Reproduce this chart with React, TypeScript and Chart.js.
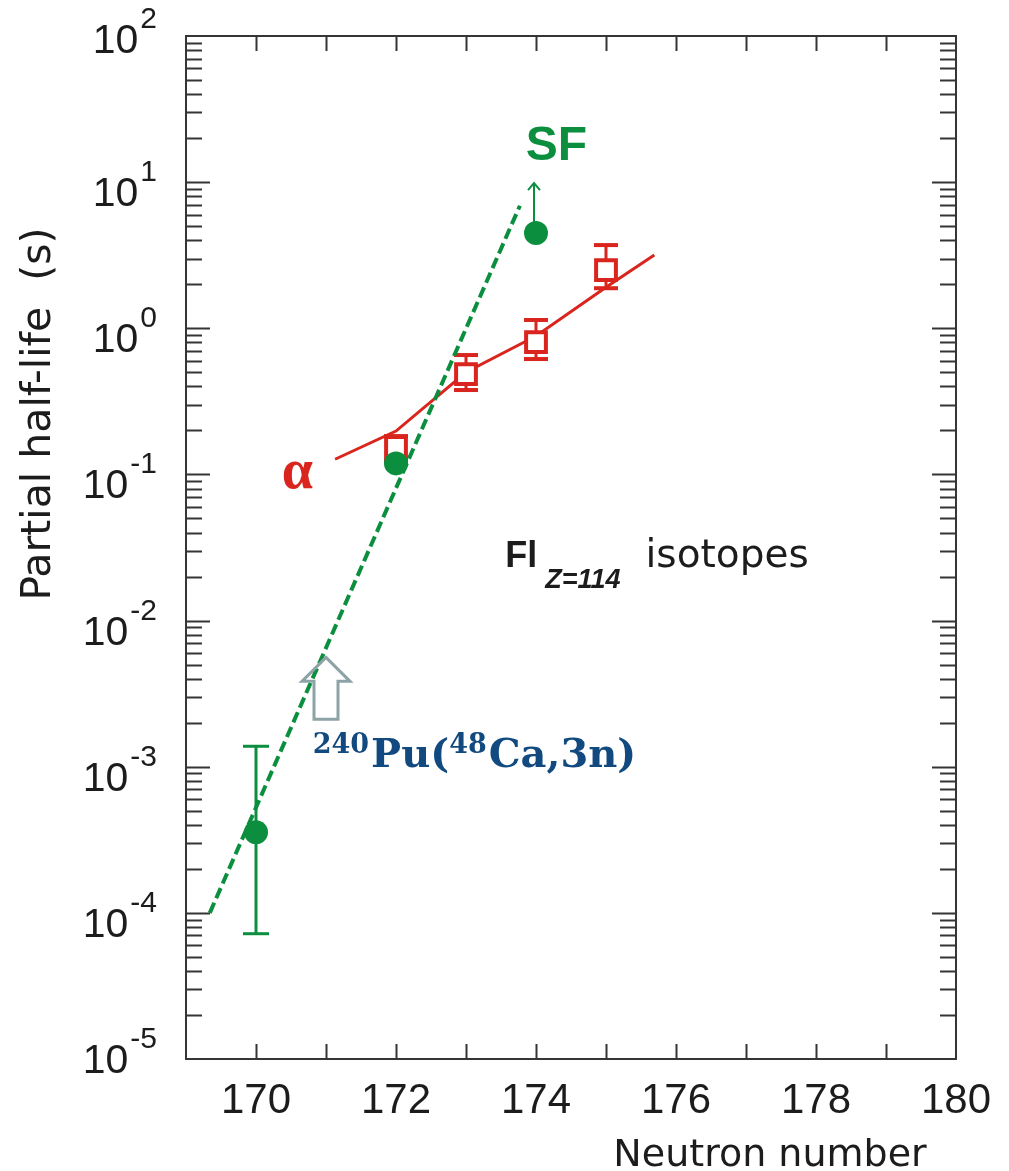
import React, { useEffect, useRef } from "react";
import { Chart, registerables } from "chart.js";

Chart.register(...registerables);

// ---------- data ----------
const xMin = 169;
const xMax = 180;
const yMin = 1e-5;
const yMax = 100;
const xTickLabels = [170, 172, 174, 176, 178, 180];
const yDecadeExponents = [2, 1, 0, -1, -2, -3, -4, -5];

// spontaneous fission partial half-lives (s)
const sfN = [170, 172, 174];
const sfHalfLife = [3.56e-4, 0.119, 4.49];
const sfErrLow = [7.2e-5, null, null];
const sfErrHigh = [1.38e-3, null, null];
const sfLowerLimitTo = [null, null, 9.86];

// alpha-decay partial half-lives (s)
const alphaN = [172, 173, 174, 175];
const alphaHalfLife = [0.154, 0.486, 0.805, 2.5];
const alphaErrLow = [0.124, 0.378, 0.616, 1.88];
const alphaErrHigh = [0.183, 0.656, 1.14, 3.71];

// systematics / trend lines
const sfTrendN = [169.34, 173.77];
const sfTrendHalfLife = [1.0e-4, 6.9];
const alphaTrendN = [171.13, 172, 173, 174, 175, 175.69];
const alphaTrendHalfLife = [0.127, 0.198, 0.5, 0.885, 1.91, 3.17];

// annotation anchors (data coordinates)
const reactionArrowN = 171;
const reactionArrowTip = 5.6e-3;

const GREEN = "#0b8f3e";
const RED = "#d9251d";
const BLUE = "#124a80";
const ARROW_GRAY = "#8ea3a6";
const AXIS = "#353535";
const TEXT = "#1c1c1c";

const decorPlugin = {
  id: "decor",
  beforeDatasetsDraw(chart: any) {
    const { ctx, scales } = chart;
    const x = scales.x;
    const y = scales.y;
    ctx.save();
    const cap = (px: number, py: number, hw: number) => {
      ctx.beginPath();
      ctx.moveTo(px - hw, py);
      ctx.lineTo(px + hw, py);
      ctx.stroke();
    };
    // alpha error bars
    ctx.strokeStyle = RED;
    ctx.lineWidth = 3;
    alphaN.forEach((n, i) => {
      const px = x.getPixelForValue(n);
      const y1 = y.getPixelForValue(alphaErrHigh[i]);
      const y2 = y.getPixelForValue(alphaErrLow[i]);
      ctx.beginPath();
      ctx.moveTo(px, y1);
      ctx.lineTo(px, y2);
      ctx.stroke();
      ctx.lineWidth = 4;
      cap(px, y1, 12);
      cap(px, y2, 12);
      ctx.lineWidth = 3;
    });
    // SF error bars
    ctx.strokeStyle = GREEN;
    ctx.lineWidth = 3;
    sfN.forEach((n, i) => {
      const lo = sfErrLow[i];
      const hi = sfErrHigh[i];
      if (lo == null || hi == null) return;
      const px = x.getPixelForValue(n);
      const y1 = y.getPixelForValue(hi);
      const y2 = y.getPixelForValue(lo);
      ctx.beginPath();
      ctx.moveTo(px, y1);
      ctx.lineTo(px, y2);
      ctx.stroke();
      cap(px, y1, 13);
      cap(px, y2, 13);
    });
    // SF lower limit arrow
    ctx.lineWidth = 2;
    sfN.forEach((n, i) => {
      const lim = sfLowerLimitTo[i];
      if (lim == null) return;
      const px = x.getPixelForValue(n) - 2;
      const y0 = y.getPixelForValue(sfHalfLife[i]);
      const y1 = y.getPixelForValue(lim);
      ctx.beginPath();
      ctx.moveTo(px, y0);
      ctx.lineTo(px, y1);
      ctx.moveTo(px - 6, y1 + 7);
      ctx.lineTo(px, y1);
      ctx.lineTo(px + 6, y1 + 7);
      ctx.stroke();
    });
    ctx.restore();
  },
  afterDraw(chart: any) {
    const { ctx, chartArea: a, scales } = chart;
    const x = scales.x;
    const y = scales.y;
    ctx.save();
    // frame
    ctx.strokeStyle = AXIS;
    ctx.lineWidth = 2;
    ctx.strokeRect(a.left, a.top, a.right - a.left, a.bottom - a.top);
    // x ticks (every integer), inward on bottom and top
    ctx.lineWidth = 2;
    for (let n = Math.ceil(xMin) + (Number.isInteger(xMin) ? 1 : 0); n < xMax; n++) {
      const px = Math.round(x.getPixelForValue(n)) + 0.5;
      ctx.beginPath();
      ctx.moveTo(px, a.bottom);
      ctx.lineTo(px, a.bottom - 15);
      ctx.moveTo(px, a.top);
      ctx.lineTo(px, a.top + 15);
      ctx.stroke();
    }
    // y ticks (log), inward on left and right
    for (let e = -5; e < 2; e++) {
      for (let k = 1; k <= 9; k++) {
        const v = k * Math.pow(10, e);
        if (v <= yMin || v >= yMax) continue;
        const py = Math.round(y.getPixelForValue(v)) + 0.5;
        const len = k === 1 ? 24 : 16;
        ctx.beginPath();
        ctx.moveTo(a.left, py);
        ctx.lineTo(a.left + len, py);
        ctx.moveTo(a.right, py);
        ctx.lineTo(a.right - len, py);
        ctx.stroke();
      }
    }
    // y tick labels 10^n
    ctx.fillStyle = TEXT;
    ctx.textBaseline = "alphabetic";
    ctx.textAlign = "left";
    const mainFont = '41px "Liberation Sans", Arial, sans-serif';
    const supFont = '30px "Liberation Sans", Arial, sans-serif';
    yDecadeExponents.forEach((e, i) => {
      const py = y.getPixelForValue(Math.pow(10, e));
      const off = i === 0 ? 2 : i === yDecadeExponents.length - 1 ? -1 : 9;
      const base = py + off + 15;
      const expStr = e < 0 ? "-" + Math.abs(e) : String(e);
      ctx.font = supFont;
      const ew = ctx.measureText(expStr).width;
      ctx.font = mainFont;
      const mw = ctx.measureText("10").width;
      const right = a.left - 29;
      const startX = right - ew - mw - 2;
      ctx.fillText("10", startX, base);
      ctx.font = supFont;
      ctx.fillText(expStr, startX + mw + 2, base - 25);
    });
    // x tick labels
    ctx.font = '42px "Liberation Sans", Arial, sans-serif';
    ctx.textAlign = "center";
    xTickLabels.forEach((n) => {
      ctx.fillText(String(n), x.getPixelForValue(n), a.bottom + 54);
    });
    // x title
    ctx.font = '38px "DejaVu Sans", sans-serif';
    ctx.fillText("Neutron number", a.right - 186, a.bottom + 107);
    // y title
    ctx.save();
    ctx.translate(a.left - 136, a.top + 378);
    ctx.rotate(-Math.PI / 2);
    ctx.font = '41px "DejaVu Sans", sans-serif';
    ctx.textAlign = "center";
    ctx.fillText("Partial half-life  (s)", 0, 0);
    ctx.restore();

    // alpha label
    ctx.fillStyle = RED;
    ctx.font = 'bold 56px "Liberation Serif", serif';
    ctx.textAlign = "center";
    ctx.fillText("\u03b1", x.getPixelForValue(170.59), y.getPixelForValue(0.0805));
    // SF label
    ctx.fillStyle = GREEN;
    ctx.font = 'bold 48px "Liberation Sans", Arial, sans-serif';
    ctx.fillText("SF", x.getPixelForValue(174.29), y.getPixelForValue(14.2));

    // Fl Z=114 isotopes
    ctx.textAlign = "left";
    ctx.fillStyle = TEXT;
    const flX = x.getPixelForValue(173.56);
    const flBase = y.getPixelForValue(0.0232);
    ctx.font = 'bold 36px "Liberation Sans", Arial, sans-serif';
    ctx.fillText("Fl", flX, flBase);
    const flW = ctx.measureText("Fl").width;
    ctx.font = 'italic bold 27px "Liberation Sans", Arial, sans-serif';
    ctx.fillText("Z=114", flX + flW + 8, flBase + 21);
    const zW = ctx.measureText("Z=114").width;
    ctx.font = '39px "DejaVu Sans", sans-serif';
    ctx.fillText("isotopes", flX + flW + 8 + zW + 25, flBase);

    // reaction arrow (hollow block arrow)
    const ax = x.getPixelForValue(reactionArrowN);
    const ay = y.getPixelForValue(reactionArrowTip);
    ctx.strokeStyle = ARROW_GRAY;
    ctx.lineWidth = 3;
    ctx.lineJoin = "miter";
    ctx.beginPath();
    ctx.moveTo(ax, ay);
    ctx.lineTo(ax + 24, ay + 24);
    ctx.lineTo(ax + 12, ay + 24);
    ctx.lineTo(ax + 12, ay + 62);
    ctx.lineTo(ax - 12, ay + 62);
    ctx.lineTo(ax - 12, ay + 24);
    ctx.lineTo(ax - 24, ay + 24);
    ctx.closePath();
    ctx.stroke();

    // reaction label 240Pu(48Ca,3n)
    ctx.fillStyle = BLUE;
    let rx = x.getPixelForValue(170.81);
    const rBase = y.getPixelForValue(9.9e-4);
    const big = 'bold 40px "DejaVu Serif", serif';
    const small = 'bold 27px "DejaVu Serif", serif';
    const parts: [string, boolean][] = [
      ["240", true],
      ["Pu(", false],
      ["48", true],
      ["Ca,3n)", false],
    ];
    parts.forEach(([t, sup]) => {
      ctx.font = sup ? small : big;
      ctx.fillText(t, rx, sup ? rBase - 14 : rBase);
      rx += ctx.measureText(t).width + (sup ? 2 : 0);
    });
    ctx.restore();
  },
};

export default function App() {
  const canvasRef = useRef<HTMLCanvasElement | null>(null);

  useEffect(() => {
    const canvas = canvasRef.current;
    if (!canvas) return;
    const chart = new Chart(canvas, {
      type: "scatter",
      data: {
        datasets: [
          {
            label: "SF",
            data: sfN.map((n, i) => ({ x: n, y: sfHalfLife[i] })),
            showLine: false,
            pointRadius: 12,
            pointBackgroundColor: GREEN,
            pointBorderColor: GREEN,
            pointBorderWidth: 0,
            order: 0,
          },
          {
            label: "alpha",
            data: alphaN.map((n, i) => ({ x: n, y: alphaHalfLife[i] })),
            showLine: false,
            pointStyle: "rect",
            pointRadius: 14,
            pointBackgroundColor: "#ffffff",
            pointBorderColor: RED,
            pointBorderWidth: 4,
            order: 1,
          },
          {
            label: "SF trend",
            data: sfTrendN.map((n, i) => ({ x: n, y: sfTrendHalfLife[i] })),
            showLine: true,
            borderColor: GREEN,
            borderWidth: 4,
            borderDash: [11, 5],
            pointRadius: 0,
            order: 2,
          },
          {
            label: "alpha trend",
            data: alphaTrendN.map((n, i) => ({ x: n, y: alphaTrendHalfLife[i] })),
            showLine: true,
            borderColor: RED,
            borderWidth: 3,
            pointRadius: 0,
            order: 3,
          },
        ],
      },
      options: {
        animation: false,
        responsive: false,
        devicePixelRatio: 1,
        events: [],
        layout: { padding: { left: 186, top: 36, right: 53, bottom: 112 } },
        plugins: {
          legend: { display: false },
          tooltip: { enabled: false },
        },
        scales: {
          x: { type: "linear", min: xMin, max: xMax, display: false },
          y: { type: "logarithmic", min: yMin, max: yMax, display: false },
        },
      },
      plugins: [decorPlugin],
    });
    return () => chart.destroy();
  }, []);

  return (
    <div
      style={{
        position: "absolute",
        left: 0,
        top: 0,
        width: 1009,
        height: 1171,
        background: "#ffffff",
      }}
    >
      <canvas ref={canvasRef} width={1009} height={1171} style={{ display: "block" }} />
    </div>
  );
}
